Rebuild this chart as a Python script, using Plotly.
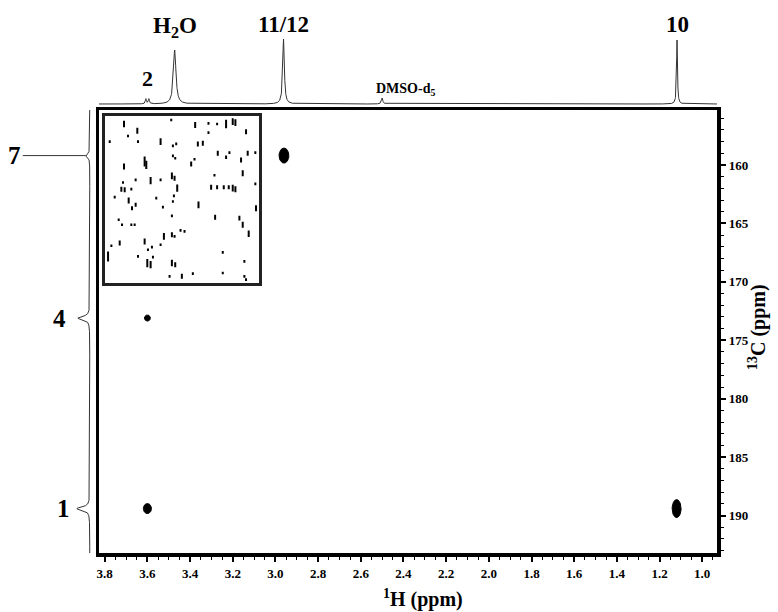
import numpy as np
import plotly.graph_objects as go

W, H = 778, 612

# ---- 2D HMBC cross peaks: 1H ppm, 13C ppm, half-extent in each dimension ----
peak_h = [2.96, 3.60, 3.60, 1.12]
peak_c = [159.2, 173.1, 189.4, 189.4]
peak_dh = [0.023, 0.014, 0.019, 0.021]
peak_dc = [0.64, 0.26, 0.43, 0.77]

# ---- 1H projection (top): positions, heights, line widths ----
h1_pos = [3.607, 3.593, 3.472, 2.962, 2.50, 1.118]
h1_amp = [5, 5, 54, 65, 6, 64]
h1_fwhm = [0.006, 0.006, 0.014, 0.009, 0.008, 0.005]

# ---- 13C projection (left) ----
c13_pos = [159.2, 173.1, 189.4]
c13_amp = [4, 12, 13]
c13_fwhm = [0.35, 0.35, 0.35]

# ---- axis ranges / tick labels ----
h_range = [3.828, 0.930]
c_range = [193.2, 155.3]
h_ticks = [3.8, 3.6, 3.4, 3.2, 3.0, 2.8, 2.6, 2.4, 2.2, 2.0, 1.8, 1.6, 1.4, 1.2, 1.0]
c_ticks = [160, 165, 170, 175, 180, 185, 190]

# ---- inset noise marks (inset grid units): x, y, length ----
inset_marks = [
    (68, 42, 20), (108, 62, 18), (25, 95, 8), (80, 78, 8), (110, 95, 8), (178, 95, 20),
    (210, 30, 8), (282, 45, 18), (322, 40, 8), (322, 68, 8), (348, 42, 8), (375, 42, 25),
    (395, 35, 20), (403, 38, 20), (435, 65, 15), (290, 102, 15), (305, 100, 15), (225, 102, 8),
    (215, 108, 8), (130, 155, 30), (135, 165, 25), (68, 170, 18), (215, 138, 8), (222, 145, 8),
    (270, 162, 15), (280, 148, 8), (350, 130, 15), (375, 142, 10), (385, 128, 8), (420, 150, 15),
    (440, 130, 15), (463, 128, 8), (425, 190, 18), (340, 196, 8), (212, 198, 20), (220, 205, 15),
    (148, 212, 22), (178, 210, 8), (103, 210, 8), (65, 218, 8), (60, 238, 15), (70, 240, 15),
    (90, 238, 8), (228, 235, 22), (218, 258, 8), (330, 232, 15), (348, 232, 12), (368, 232, 12),
    (383, 232, 12), (395, 235, 20), (403, 238, 18), (463, 222, 8), (40, 262, 8), (82, 272, 18),
    (92, 295, 12), (103, 285, 12), (165, 265, 8), (215, 275, 8), (292, 285, 20), (185, 292, 8),
    (465, 295, 18), (212, 318, 8), (342, 322, 15), (415, 325, 15), (425, 345, 18), (443, 372, 20),
    (52, 330, 8), (62, 345, 8), (90, 345, 8), (100, 345, 8), (238, 362, 8), (250, 365, 8),
    (188, 380, 20), (212, 375, 15), (220, 380, 8), (130, 395, 18), (178, 405, 8), (55, 400, 15),
    (30, 408, 8), (152, 412, 8), (140, 420, 8), (20, 440, 30), (110, 440, 8), (155, 442, 8),
    (138, 460, 25), (148, 465, 22), (212, 460, 20), (222, 465, 15), (365, 428, 8), (430, 455, 8),
    (242, 500, 15), (275, 492, 8), (205, 500, 8), (365, 490, 8), (430, 500, 8), (435, 510, 8),
]

def px_x(p):
    return p / W

def px_y(p):
    return 1 - p / H

FONT = "Liberation Serif"

fig = go.Figure()

# main 2D cross peaks drawn as filled ellipses
t = np.linspace(0, 2 * np.pi, 60)
for h, c, dh, dc in zip(peak_h, peak_c, peak_dh, peak_dc):
    fig.add_trace(go.Scatter(x=h + dh * np.cos(t), y=c + dc * np.sin(t), mode="lines",
                             fill="toself", fillcolor="black", line=dict(color="black", width=1),
                             xaxis="x", yaxis="y", hoverinfo="skip", showlegend=False))

# invisible trace on the frame axes (top / left edges)
fig.add_trace(go.Scatter(x=[h_range[0]], y=[c_range[0]], mode="markers", marker=dict(opacity=0),
                         xaxis="x5", yaxis="y5", hoverinfo="skip", showlegend=False))

# top 1H projection
hx = np.arange(h_range[1], h_range[0], 0.0005)
hy = np.zeros_like(hx)
for p, a, w in zip(h1_pos, h1_amp, h1_fwhm):
    g = w / 2
    hy += a * g * g / ((hx - p) ** 2 + g * g)
fig.add_trace(go.Scatter(x=hx, y=hy, mode="lines", line=dict(color="#333", width=1),
                         xaxis="x2", yaxis="y2", hoverinfo="skip", showlegend=False))

# left 13C projection
cy = np.arange(155.0, 193.6, 0.01)
cx = np.zeros_like(cy)
for p, a, w in zip(c13_pos, c13_amp, c13_fwhm):
    g = w / 2
    cx += a * g * g / ((cy - p) ** 2 + g * g)
fig.add_trace(go.Scatter(x=cx, y=cy, mode="lines", line=dict(color="#333", width=1),
                         xaxis="x4", yaxis="y4", hoverinfo="skip", showlegend=False))

# inset noise marks
mx, my = [], []
for x, y, l in inset_marks:
    mx += [x, x, None]
    my += [y - l / 2, y + l / 2, None]
fig.add_trace(go.Scatter(x=mx, y=my, mode="lines", line=dict(color="black", width=2),
                         xaxis="x3", yaxis="y3", hoverinfo="skip", showlegend=False))

main_xd = [px_x(97), px_x(717)]
main_yd = [px_y(553), px_y(110)]
tickfont = dict(family=FONT, size=13, color="black", weight="bold")

fig.update_layout(
    width=W, height=H, margin=dict(l=0, r=0, t=0, b=0),
    paper_bgcolor="white", plot_bgcolor="white", showlegend=False,
    xaxis=dict(domain=main_xd, range=h_range, tickvals=h_ticks, ticktext=[f"{v:.1f}" for v in h_ticks],
               ticks="outside", ticklen=5, tickwidth=1.5, tickcolor="black",
               minor=dict(dtick=0.05, tick0=1.0, ticks="outside", ticklen=3, tickwidth=1, tickcolor="black"),
               showline=True, linewidth=4, linecolor="black", mirror=False,
               showgrid=False, zeroline=False, tickfont=tickfont, anchor="y"),
    yaxis=dict(domain=main_yd, range=c_range, tickvals=c_ticks, side="right",
               ticks="outside", ticklen=5, tickwidth=1.5, tickcolor="black",
               minor=dict(dtick=1, tick0=160, ticks="outside", ticklen=3, tickwidth=1, tickcolor="black"),
               showline=True, linewidth=4, linecolor="black", mirror=False,
               showgrid=False, zeroline=False, tickfont=tickfont, anchor="x"),
    xaxis5=dict(overlaying="x", matches="x", side="top", anchor="y", showline=True, linewidth=2.5,
                linecolor="black", ticks="", showticklabels=False, showgrid=False, zeroline=False),
    yaxis5=dict(overlaying="y", matches="y", side="left", anchor="x", showline=True, linewidth=2.5,
                linecolor="black", ticks="", showticklabels=False, showgrid=False, zeroline=False),
    xaxis2=dict(domain=main_xd, range=h_range, visible=False, anchor="y2"),
    yaxis2=dict(domain=[px_y(106), px_y(30)], range=[-2, 74], visible=False, anchor="x2"),
    xaxis3=dict(domain=[px_x(103), px_x(258)], range=[10, 475], showline=True, linewidth=2.5,
                linecolor="#222", mirror=True, showticklabels=False, ticks="", showgrid=False,
                zeroline=False, anchor="y3"),
    yaxis3=dict(domain=[px_y(283), px_y(116)], range=[520, 18], showline=True, linewidth=2.5,
                linecolor="#222", mirror=True, showticklabels=False, ticks="", showgrid=False,
                zeroline=False, anchor="x3"),
    xaxis4=dict(domain=[px_x(60), px_x(95)], range=[28, -7], visible=False, anchor="y4"),
    yaxis4=dict(domain=main_yd, range=c_range, visible=False, anchor="x4"),
)

def bold(size):
    return dict(family=FONT, size=size, color="black", weight="bold")

C = dict(xanchor="center", yanchor="middle", showarrow=False)
ann = []
# top labels
ann.append(dict(x=3.60, y=px_y(78), xref="x2", yref="paper", text="2", font=bold(22), **C))
ann.append(dict(x=3.472, y=px_y(27), xref="x2", yref="paper", text="H<sub>2</sub>O", font=bold(23), **C))
ann.append(dict(x=2.962, y=px_y(25), xref="x2", yref="paper", text="11/12", font=bold(23), **C))
ann.append(dict(x=1.118, y=px_y(25), xref="x2", yref="paper", text="10", font=bold(23), **C))
ann.append(dict(x=2.39, y=px_y(89), xref="x2", yref="paper", text="DMSO-d<sub>5</sub>", font=bold(14), **C))
# left labels
ann.append(dict(x=4, y=c13_pos[0], xref="x4", yref="y4", text="7", showarrow=True, arrowhead=0,
                arrowwidth=1, arrowcolor="#333", ax=-71, ay=0, xanchor="center", yanchor="middle",
                font=bold(25)))
ann.append(dict(x=px_x(58), y=c13_pos[1], xref="paper", yref="y4", text="4", font=bold(25), **C))
ann.append(dict(x=px_x(62), y=c13_pos[2], xref="paper", yref="y4", text="1", font=bold(25), **C))
# axis titles
ann.append(dict(x=px_x(422), y=px_y(598), xref="paper", yref="paper", text="<sup>1</sup>H (ppm)",
                font=bold(20), **C))
ann.append(dict(x=px_x(757), y=px_y(327), xref="paper", yref="paper", text="<sup>13</sup>C (ppm)",
                textangle=-90, font=bold(20), **C))
fig.update_layout(annotations=ann)

fig.write_html("out.html", config={"displayModeBar": False},
               post_script="document.body.style.margin='0px';")
